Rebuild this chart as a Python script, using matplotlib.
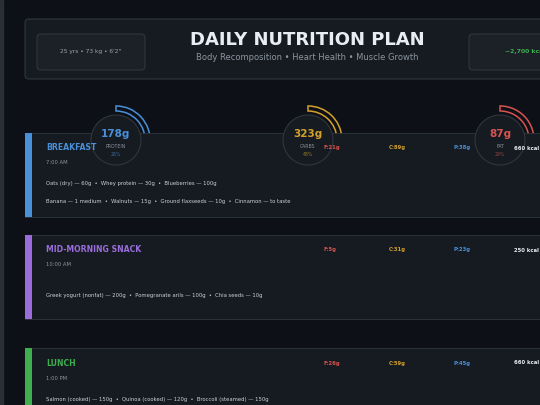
import matplotlib
matplotlib.use("Agg")
import matplotlib.pyplot as plt
from matplotlib.patches import FancyBboxPatch, Rectangle, Circle, Wedge

macro_names = ["PROTEIN", "CARBS", "FAT"]
macro_grams = ["178g", "323g", "87g"]
macro_pcts = [26, 48, 29]
macro_colors = ["#4a90d9", "#d4a12a", "#d9534f"]

meal_names = ["BREAKFAST", "MID-MORNING SNACK", "LUNCH"]
meal_times = ["7:00 AM", "10:00 AM", "1:00 PM"]
meal_colors = ["#4a90d9", "#9b6ddb", "#3fae4f"]
meal_fat = [21, 5, 26]
meal_carb = [89, 31, 59]
meal_prot = [38, 23, 45]
meal_kcal = [660, 250, 660]
meal_foods = [
    ["Oats (dry) — 60g  •  Whey protein — 30g  •  Blueberries — 100g",
     "Banana — 1 medium  •  Walnuts — 15g  •  Ground flaxseeds — 10g  •  Cinnamon — to taste"],
    ["Greek yogurt (nonfat) — 200g  •  Pomegranate arils — 100g  •  Chia seeds — 10g"],
    ["Salmon (cooked) — 150g  •  Quinoa (cooked) — 120g  •  Broccoli (steamed) — 150g"],
]

BG = "#0d1117"; CARD = "#161b22"; EDGE = "#30363d"
fig = plt.figure(figsize=(5.4, 4.05), dpi=100, facecolor=BG)
ax = fig.add_axes([0, 0, 1, 1])
ax.set_xlim(0, 540); ax.set_ylim(405, 0); ax.axis("off")
ax.set_facecolor(BG)
ax.add_patch(Rectangle((0, 0), 3, 405, color="#2a2f36", zorder=0))

# header
ax.add_patch(FancyBboxPatch((25, 19), 530, 60, boxstyle="round,pad=0,rounding_size=4", fc=CARD, ec=EDGE, lw=0.8))
ax.add_patch(FancyBboxPatch((37, 34), 108, 36, boxstyle="round,pad=0,rounding_size=4", fc="#1c2128", ec=EDGE, lw=0.8))
ax.add_patch(FancyBboxPatch((469, 34), 90, 36, boxstyle="round,pad=0,rounding_size=4", fc="#1c2128", ec=EDGE, lw=0.8))
ax.text(91, 52, "25 yrs • 73 kg • 6'2\"", color="#9aa4af", fontsize=4.2, ha="center", va="center")
ax.text(505, 52, "~2,700 kcal", color="#3fae4f", fontsize=4.4, ha="left", va="center", fontweight="bold")
ax.text(307, 40, "DAILY NUTRITION PLAN", color="#e6edf3", fontsize=13, fontweight="bold", ha="center", va="center")
ax.text(307, 58, "Body Recomposition • Heart Health • Muscle Growth", color="#8b949e", fontsize=6, ha="center", va="center")

# meal cards
card_tops = [133, 235, 348]
for i, top in enumerate(card_tops):
    ax.add_patch(Rectangle((25, top), 530, 84, fc=CARD, ec=EDGE, lw=0.6, zorder=2))
    ax.add_patch(Rectangle((25, top), 7, 84, fc=meal_colors[i], ec="none", zorder=3))
    ax.text(46, top + 15, meal_names[i], color=meal_colors[i], fontsize=5.6, fontweight="bold", va="center", zorder=7)
    ax.text(46, top + 30, meal_times[i], color="#8b949e", fontsize=3.8, va="center", zorder=4)
    ax.text(324, top + 15, f"F:{meal_fat[i]}g", color="#d9534f", fontsize=3.8, fontweight="bold", va="center", zorder=7)
    ax.text(389, top + 15, f"C:{meal_carb[i]}g", color="#d4a12a", fontsize=3.8, fontweight="bold", va="center", zorder=7)
    ax.text(454, top + 15, f"P:{meal_prot[i]}g", color="#4a90d9", fontsize=3.8, fontweight="bold", va="center", zorder=7)
    ax.text(514, top + 15, f"{meal_kcal[i]} kcal", color="#e6edf3", fontsize=3.8, fontweight="bold", va="center", zorder=7)
    if len(meal_foods[i]) == 2:
        ys = [top + 51, top + 69]
    else:
        ys = [top + 60] if i == 1 else [top + 51]
    for y, line in zip(ys, meal_foods[i]):
        ax.text(46, y, line, color="#c9d1d9", fontsize=3.8, va="center", zorder=4)

# macro rings
centers = [116, 308, 500]
for cx, name, g, pct, col in zip(centers, macro_names, macro_grams, macro_pcts, macro_colors):
    cy = 140
    ax.add_patch(Wedge((cx, cy), 34, -90, -90 + pct * 3.6, width=5, fc=BG, ec=col, lw=1.1, zorder=1))
    ax.add_patch(Circle((cx, cy), 25, fc=CARD, ec=EDGE, lw=0.8, zorder=5))
    ax.text(cx, cy - 6, g, color=col, fontsize=7.5, fontweight="bold", ha="center", va="center", zorder=6)
    ax.text(cx, cy + 6, name, color="#8b949e", fontsize=3.3, ha="center", va="center", zorder=6)
    ax.text(cx, cy + 14, f"{pct}%", color=col, fontsize=3.3, ha="center", va="center", alpha=0.7, zorder=6)

fig.savefig("out.png", dpi=100, facecolor=BG)
